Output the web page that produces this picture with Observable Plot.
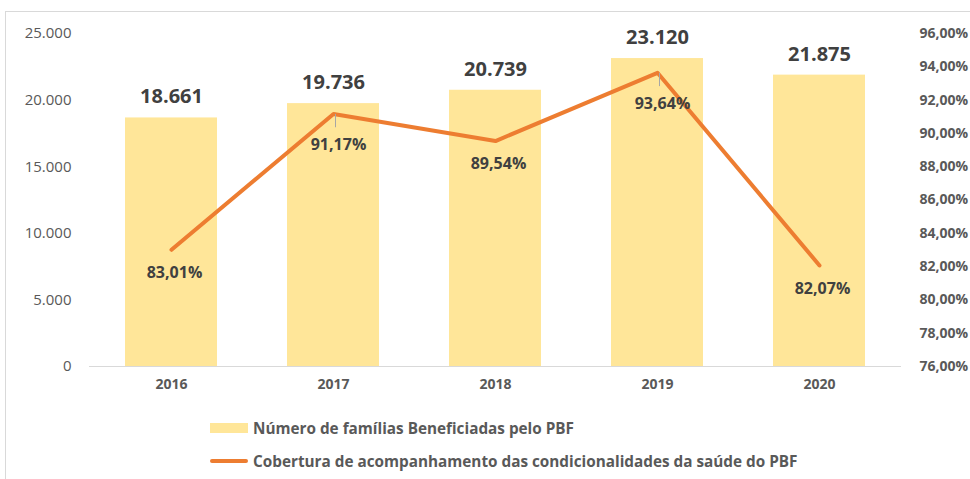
<!DOCTYPE html>
<html>
<head>
<meta charset="utf-8">
<script src="https://cdn.jsdelivr.net/npm/d3@7"></script>
<script src="https://cdn.jsdelivr.net/npm/@observablehq/plot@0.6"></script>
<style>
  html, body { margin: 0; padding: 0; background: #fff; }
  body { position: relative; width: 970px; height: 479px; overflow: hidden; font-family: "Open Sans", sans-serif; }
  #frame { position: absolute; left: 5px; top: 11px; width: 1100px; height: 600px; border: 1px solid #d9d9d9; box-sizing: border-box; pointer-events: none; }
  #chart { position: absolute; left: 0; top: 0; }
  #legend { position: absolute; left: 210px; top: 414px; color: #595959; font-size: 15.3px; font-weight: 700; }
  .row { display: flex; align-items: center; height: 28px; margin-bottom: 5px; }
  .sw-bar { width: 38px; height: 10px; background: #FFE699; margin-right: 5px; }
  .sw-line { width: 38px; height: 4px; background: #ED7D31; border-radius: 2px; margin-right: 5px; }
</style>
</head>
<body>
<div id="frame"></div>
<div id="chart"></div>
<div id="legend">
  <div class="row"><div class="sw-bar"></div><span id="lg1"></span></div>
  <div class="row"><div class="sw-line"></div><span id="lg2"></span></div>
</div>
<script>
const years = ["2016", "2017", "2018", "2019", "2020"];
const families = [18661, 19736, 20739, 23120, 21875];
const coverage = [83.01, 91.17, 89.54, 93.64, 82.07];
const leftTicks = [0, 5000, 10000, 15000, 20000, 25000];
const rightTicks = [76, 78, 80, 82, 84, 86, 88, 90, 92, 94, 96];
const seriesNames = ["Número de famílias Beneficiadas pelo PBF", "Cobertura de acompanhamento das condicionalidades da saúde do PBF"];
const leaderYears = ["2017", "2019"];

document.getElementById("lg1").textContent = seriesNames[0];
document.getElementById("lg2").textContent = seriesNames[1];

const yMax = 25000, pMin = 76, pMax = 96;
const toY = p => (p - pMin) / (pMax - pMin) * yMax;
const fromY = v => pMin + v / yMax * (pMax - pMin);
const loc = d3.formatLocale({decimal: ",", thousands: ".", grouping: [3], currency: ["R$", ""]});
const fmtN = loc.format(",d");
const fmtP = p => p.toFixed(2).replace(".", ",") + "%";

const data = years.map((year, i) => ({year, families: families[i], coverage: coverage[i]}));
const plain = data.filter(d => !leaderYears.includes(d.year));
const lead = data.filter(d => leaderYears.includes(d.year));

const chart = Plot.plot({
  width: 970,
  height: 400,
  marginTop: 33,
  marginBottom: 34,
  marginLeft: 89,
  marginRight: 69,
  style: {fontFamily: "'Open Sans', sans-serif", color: "#595959", background: "transparent"},
  x: {domain: years, paddingInner: 0.43, paddingOuter: 0.215},
  y: {domain: [0, yMax]},
  marks: [
    Plot.barY(data, {x: "year", y: "families", fill: "#FFE699"}),
    Plot.ruleY([0], {stroke: "#d9d9d9", strokeWidth: 1}),
    Plot.axisY({anchor: "left", ticks: leftTicks, tickFormat: fmtN, tickSize: 0, tickPadding: 18, fontSize: 15, fill: "#595959", label: null}),
    Plot.axisY({anchor: "right", ticks: rightTicks.map(toY), tickFormat: v => fmtP(fromY(v)), tickSize: 0, tickPadding: 18, fontSize: 14, fontWeight: "bold", fill: "#595959", label: null}),
    Plot.axisX({tickSize: 0, tickPadding: 13, fontSize: 14, fontWeight: "bold", fill: "#595959", label: null}),
    Plot.line(data, {x: "year", y: d => toY(d.coverage), stroke: "#ED7D31", strokeWidth: 4, strokeLinecap: "round", strokeLinejoin: "round"}),
    Plot.link(lead, {x1: "year", x2: "year", y1: d => toY(d.coverage), y2: d => toY(d.coverage - 0.8), stroke: "#a6a6a6", strokeWidth: 1, dx: 2}),
    Plot.text(data, {x: "year", y: "families", text: d => fmtN(d.families), dy: -21, fontSize: 20, fontWeight: "bold", fill: "#404040"}),
    Plot.text(plain, {x: "year", y: d => toY(d.coverage), text: d => fmtP(d.coverage), dy: 23, dx: 3, fontSize: 16, fontWeight: "bold", fill: "#404040"}),
    Plot.text(lead, {x: "year", y: d => toY(d.coverage), text: d => fmtP(d.coverage), dy: 31, dx: 5, fontSize: 16, fontWeight: "bold", fill: "#404040"})
  ]
});
document.getElementById("chart").appendChild(chart);
</script>
</body>
</html>
